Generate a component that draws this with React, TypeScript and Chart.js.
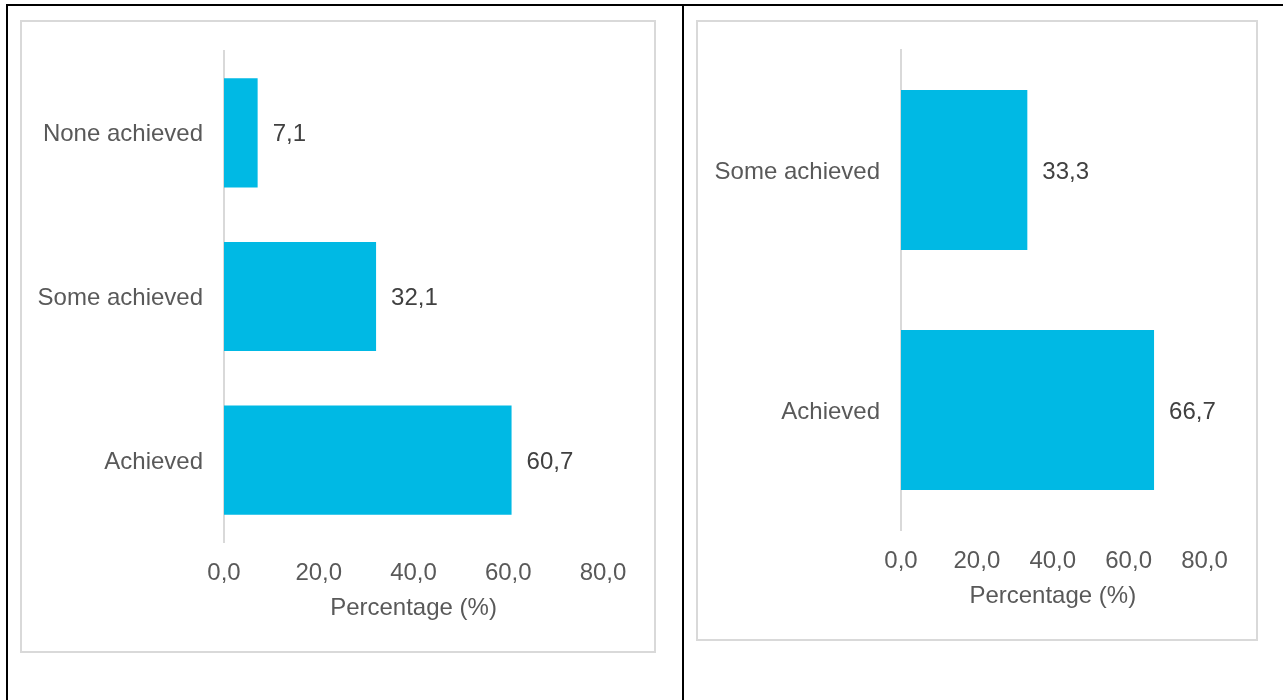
import React, { useEffect, useRef } from 'react';
import { Chart, registerables } from 'chart.js';

Chart.register(...registerables);

// ---- Data ----
const leftCategories = ['None achieved', 'Some achieved', 'Achieved'];
const leftValues = [7.1, 32.1, 60.7];
const rightCategories = ['Some achieved', 'Achieved'];
const rightValues = [33.3, 66.7];
const xTickMin = 0;
const xTickMax = 80;
const xTickStep = 20;
const axisTitle = 'Percentage (%)';

const FONT = '"Liberation Sans", Arial, Helvetica, sans-serif';
const BAR_COLOR = '#00B9E4';
const LABEL_COLOR = '#595959';
const VALUE_COLOR = '#404040';
const FONT_SIZE = 24;

const fmt = (v: number) => v.toFixed(1).replace('.', ',');

const valueLabelPlugin = {
  id: 'valueLabels',
  afterDatasetsDraw(chart: any) {
    const ctx = chart.ctx;
    ctx.save();
    ctx.font = `${FONT_SIZE}px ${FONT}`;
    ctx.fillStyle = VALUE_COLOR;
    ctx.textAlign = 'left';
    ctx.textBaseline = 'middle';
    chart.data.datasets.forEach((ds: any, di: number) => {
      const meta = chart.getDatasetMeta(di);
      meta.data.forEach((bar: any, i: number) => {
        ctx.fillText(fmt(ds.data[i]), bar.x + 15, bar.y + 2);
      });
    });
    ctx.restore();
  },
};

type Props = {
  categories: string[];
  values: number[];
  width: number;
  height: number;
  yAxisWidth: number;
  xAxisHeight: number;
  padTop: number;
  padRight: number;
  padBottom: number;
  tickPad: number;
  titlePadBottom: number;
};

function BarChart(p: Props) {
  const ref = useRef<HTMLCanvasElement | null>(null);
  useEffect(() => {
    if (!ref.current) return;
    const chart = new Chart(ref.current, {
      type: 'bar',
      data: {
        labels: p.categories,
        datasets: [
          {
            data: p.values,
            backgroundColor: BAR_COLOR,
            borderWidth: 0,
            categoryPercentage: 1,
            barPercentage: 0.667,
          },
        ],
      },
      options: {
        indexAxis: 'y',
        responsive: false,
        animation: false,
        devicePixelRatio: 1,
        layout: {
          padding: { top: p.padTop, right: p.padRight, bottom: p.padBottom, left: 0 },
        },
        plugins: {
          legend: { display: false },
          tooltip: { enabled: false },
        },
        scales: {
          x: {
            min: xTickMin,
            max: xTickMax,
            grid: { display: false, drawTicks: false },
            border: { display: false },
            ticks: {
              stepSize: xTickStep,
              padding: p.tickPad,
              color: LABEL_COLOR,
              font: { family: FONT, size: FONT_SIZE },
              callback: (v: any) => fmt(Number(v)),
              maxRotation: 0,
            },
            title: {
              display: true,
              text: axisTitle,
              color: LABEL_COLOR,
              font: { family: FONT, size: FONT_SIZE },
              padding: { top: 0, bottom: p.titlePadBottom },
            },
            afterFit: (scale: any) => {
              scale.height = p.xAxisHeight;
              scale.paddingLeft = 0;
              scale.paddingRight = 0;
            },
          },
          y: {
            grid: { display: false, drawTicks: false },
            border: { display: true, color: '#d9d9d9', width: 2 },
            ticks: {
              padding: 21,
              labelOffset: 2,
              color: LABEL_COLOR,
              font: { family: FONT, size: FONT_SIZE },
            },
            afterFit: (scale: any) => {
              scale.width = p.yAxisWidth;
              scale.paddingTop = 0;
              scale.paddingBottom = 0;
            },
          },
        },
      },
      plugins: [valueLabelPlugin],
    } as any);
    return () => chart.destroy();
  }, []);
  return (
    <canvas
      ref={ref}
      width={p.width}
      height={p.height}
      style={{ display: 'block', width: p.width, height: p.height }}
    />
  );
}

export default function App() {
  return (
    <div
      style={{
        position: 'absolute',
        left: 0,
        top: 0,
        width: 1283,
        height: 700,
        background: '#fff',
        overflow: 'hidden',
      }}
    >
      <div style={{ position: 'absolute', left: 6, top: 4, width: 1277, height: 2, background: '#000' }} />
      <div style={{ position: 'absolute', left: 6, top: 4, width: 2, height: 696, background: '#000' }} />
      <div style={{ position: 'absolute', left: 682, top: 4, width: 2, height: 696, background: '#000' }} />

      <div
        style={{
          position: 'absolute',
          left: 20,
          top: 20,
          width: 636,
          height: 633,
          border: '2px solid #d9d9d9',
          boxSizing: 'border-box',
        }}
      >
        <BarChart
          categories={leftCategories}
          values={leftValues}
          width={632}
          height={629}
          yAxisWidth={202}
          xAxisHeight={80}
          padTop={29}
          padRight={51}
          padBottom={29}
          tickPad={17}
          titlePadBottom={-1}
        />
      </div>

      <div
        style={{
          position: 'absolute',
          left: 696,
          top: 20,
          width: 562,
          height: 621,
          border: '2px solid #d9d9d9',
          boxSizing: 'border-box',
        }}
      >
        <BarChart
          categories={rightCategories}
          values={rightValues}
          width={558}
          height={617}
          yAxisWidth={203}
          xAxisHeight={80}
          padTop={28}
          padRight={51.5}
          padBottom={29}
          tickPad={17}
          titlePadBottom={-1}
        />
      </div>
    </div>
  );
}
